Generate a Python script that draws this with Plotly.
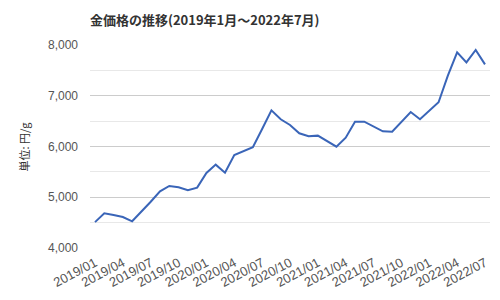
import plotly.graph_objects as go

months = [f"{y}/{m:02d}" for y in range(2019, 2023) for m in range(1, 13)][:43]
prices = [4510, 4684, 4650, 4610, 4526, 4715, 4912, 5117, 5222, 5196, 5137, 5190,
          5478, 5643, 5485, 5833, 5912, 5985, 6345, 6713, 6536, 6424, 6260, 6201,
          6214, 6108, 5997, 6174, 6489, 6489, 6391, 6300, 6290, 6483, 6680, 6536,
          6700, 6871, 7396, 7855, 7658, 7901, 7619]
tick_labels = months[::3]

title_text = "金価格の推移(2019年1月～2022年7月)"
y_title = "単位: 円/g"

cjk = "Noto Sans CJK JP"
latin = "Liberation Sans"

fig = go.Figure(go.Scatter(
    x=months, y=prices, mode="lines",
    line=dict(color="#3a65b8", width=2),
    hoverinfo="skip",
))

fig.update_layout(
    width=500, height=300,
    margin=dict(l=90, r=10, t=45, b=52),
    paper_bgcolor="white", plot_bgcolor="white",
    showlegend=False,
    font=dict(family=latin, size=12, color="#555"),
    title=dict(text=f"<b>{title_text}</b>", x=90/500, xanchor="left",
               y=1-20/300, yanchor="middle",
               font=dict(family=cjk, size=13, color="#333")),
    annotations=[dict(
        text=y_title, xref="paper", yref="paper",
        x=-67/400, y=0.5, xanchor="center", yanchor="middle",
        textangle=-90, showarrow=False,
        font=dict(family=cjk, size=11, color="#333"),
    )],
)
fig.update_xaxes(
    type="category", range=[-0.54, 42.54],
    tickmode="array", tickvals=tick_labels, ticktext=tick_labels,
    tickangle=-28, showgrid=False, showline=False, zeroline=False,
    ticks="", ticklabelstandoff=4,
    tickfont=dict(family=latin, size=13, color="#555"),
)
fig.update_yaxes(
    range=[4000, 8000], dtick=1000, tickformat=",d",
    showgrid=True, gridcolor="#cccccc", gridwidth=1,
    minor=dict(dtick=500, showgrid=True, gridcolor="#e8e8e8", gridwidth=1),
    zeroline=False, showline=False, ticks="", ticklabelstandoff=11,
    tickfont=dict(family=latin, size=12, color="#555"),
)

fig.write_html("out.html")
